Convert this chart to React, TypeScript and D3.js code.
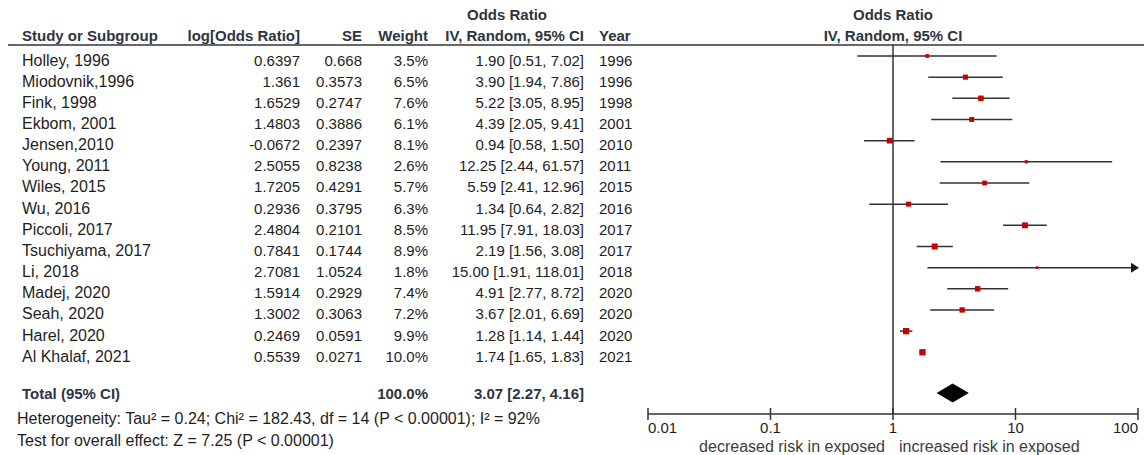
import React from 'react';
import * as d3 from 'd3';

const studies = ['Holley, 1996', 'Miodovnik,1996', 'Fink, 1998', 'Ekbom, 2001', 'Jensen,2010', 'Young, 2011', 'Wiles, 2015', 'Wu, 2016', 'Piccoli, 2017', 'Tsuchiyama, 2017', 'Li, 2018', 'Madej, 2020', 'Seah, 2020', 'Harel, 2020', 'Al Khalaf, 2021'];
const logOR = ['0.6397', '1.361', '1.6529', '1.4803', '-0.0672', '2.5055', '1.7205', '0.2936', '2.4804', '0.7841', '2.7081', '1.5914', '1.3002', '0.2469', '0.5539'];
const seValues = ['0.668', '0.3573', '0.2747', '0.3886', '0.2397', '0.8238', '0.4291', '0.3795', '0.2101', '0.1744', '1.0524', '0.2929', '0.3063', '0.0591', '0.0271'];
const weights = [3.5, 6.5, 7.6, 6.1, 8.1, 2.6, 5.7, 6.3, 8.5, 8.9, 1.8, 7.4, 7.2, 9.9, 10.0];
const oddsRatio = [1.90, 3.90, 5.22, 4.39, 0.94, 12.25, 5.59, 1.34, 11.95, 2.19, 15.00, 4.91, 3.67, 1.28, 1.74];
const ciLow = [0.51, 1.94, 3.05, 2.05, 0.58, 2.44, 2.41, 0.64, 7.91, 1.56, 1.91, 2.77, 2.01, 1.14, 1.65];
const ciHigh = [7.02, 7.86, 8.95, 9.41, 1.50, 61.57, 12.96, 2.82, 18.03, 3.08, 118.01, 8.72, 6.69, 1.44, 1.83];
const years = [1996, 1996, 1998, 2001, 2010, 2011, 2015, 2016, 2017, 2017, 2018, 2020, 2020, 2020, 2021];

const total = { or: 3.07, lo: 2.27, hi: 4.16, weight: '100.0%' };
const ticks = [0.01, 0.1, 1, 10, 100];
const tickLabels = ['0.01', '0.1', '1', '10', '100'];

const FONT = '"Liberation Sans", Arial, sans-serif';
const TXT = '#1e1e1e';
const HDR = '#2e3440';
const LINE = '#333';

export default function App() {
  const x = d3.scaleLog().domain([0.01, 100]).range([648, 1138]);
  const y = d3.scaleLinear().domain([0, studies.length - 1]).range([56, 352.3]);
  const axisY = 414;
  const totalY = 393;
  const fmt = d3.format('.2f');

  // diamond for pooled estimate
  const diamond = d3.line()([
    [x(total.lo), totalY],
    [x(total.or), totalY - 9.5],
    [x(total.hi), totalY],
    [x(total.or), totalY + 9.5],
  ]) + 'Z';

  const txt = { fontFamily: FONT, fontSize: 15, fill: TXT };
  const hdr = { fontFamily: FONT, fontSize: 15, fill: HDR, fontWeight: 'bold' as const };

  return (
    <svg width={1144} height={455} style={{ position: 'absolute', left: 0, top: 0, background: '#fff' }}>
      {/* headers */}
      <text x={507} y={20} textAnchor="middle" {...hdr}>Odds Ratio</text>
      <text x={893} y={20} textAnchor="middle" {...hdr}>Odds Ratio</text>
      <text x={22} y={41} {...hdr}>Study or Subgroup</text>
      <text x={300} y={41} textAnchor="end" {...hdr}>log[Odds Ratio]</text>
      <text x={362} y={41} textAnchor="end" {...hdr}>SE</text>
      <text x={428} y={41} textAnchor="end" {...hdr}>Weight</text>
      <text x={584} y={41} textAnchor="end" {...hdr}>IV, Random, 95% CI</text>
      <text x={599} y={41} {...hdr}>Year</text>
      <text x={893} y={41} textAnchor="middle" {...hdr}>IV, Random, 95% CI</text>
      <line x1={8} x2={1144} y1={45} y2={45} stroke={LINE} strokeWidth={1.5} />

      {/* study rows */}
      {studies.map((s, i) => {
        const yy = y(i);
        const ty = yy + 9.5;
        const side = 2 * Math.sqrt(weights[i]);
        const hiClipped = ciHigh[i] > 100;
        const x2 = hiClipped ? x(100) : x(ciHigh[i]);
        return (
          <g key={s}>
            <text x={22} y={ty} {...txt} fontSize={16}>{s}</text>
            <text x={300} y={ty} textAnchor="end" {...txt}>{logOR[i]}</text>
            <text x={362} y={ty} textAnchor="end" {...txt}>{seValues[i]}</text>
            <text x={428} y={ty} textAnchor="end" {...txt}>{weights[i].toFixed(1)}%</text>
            <text x={584} y={ty} textAnchor="end" {...txt}>{`${fmt(oddsRatio[i])} [${fmt(ciLow[i])}, ${fmt(ciHigh[i])}]`}</text>
            <text x={599} y={ty} {...txt}>{years[i]}</text>
            <line x1={x(ciLow[i])} x2={x2} y1={yy} y2={yy} stroke={LINE} strokeWidth={1.5} />
            {hiClipped && (
              <path d={`M${x2 - 7},${yy - 5}L${x2 + 1},${yy}L${x2 - 7},${yy + 5}Z`} fill="#111" />
            )}
            <rect x={x(oddsRatio[i]) - side / 2} y={yy - side / 2} width={side} height={side} fill="#c80000" />
          </g>
        );
      })}

      {/* total */}
      <text x={22} y={399} {...hdr}>Total (95% CI)</text>
      <text x={428} y={399} textAnchor="end" {...hdr}>{total.weight}</text>
      <text x={584} y={399} textAnchor="end" {...hdr}>{`${fmt(total.or)} [${fmt(total.lo)}, ${fmt(total.hi)}]`}</text>
      <path d={diamond} fill="#000" />
      <text x={17} y={424} fontFamily={FONT} fontSize={16} fill={TXT}>Heterogeneity: Tau² = 0.24; Chi² = 182.43, df = 14 (P &lt; 0.00001); I² = 92%</text>
      <text x={17} y={446} fontFamily={FONT} fontSize={16} fill={TXT}>Test for overall effect: Z = 7.25 (P &lt; 0.00001)</text>

      {/* null line and axis */}
      <line x1={x(1)} x2={x(1)} y1={45} y2={axisY} stroke={LINE} strokeWidth={1.5} />
      <line x1={x(0.01)} x2={x(100)} y1={axisY} y2={axisY} stroke={LINE} strokeWidth={1.5} />
      {ticks.map((t, i) => (
        <g key={t}>
          <line x1={x(t)} x2={x(t)} y1={axisY - 6} y2={axisY + 6} stroke={LINE} strokeWidth={1.5} />
          <text
            x={x(t)}
            y={433}
            textAnchor={i === 0 ? 'start' : i === ticks.length - 1 ? 'end' : 'middle'}
            fontFamily={FONT}
            fontSize={15}
            fill={TXT}
          >
            {tickLabels[i]}
          </text>
        </g>
      ))}
      <text x={885} y={452} textAnchor="end" fontFamily={FONT} fontSize={16} fill="#3c3c3c">decreased risk in exposed</text>
      <text x={899} y={452} fontFamily={FONT} fontSize={16} fill="#3c3c3c">increased risk in exposed</text>
    </svg>
  );
}
